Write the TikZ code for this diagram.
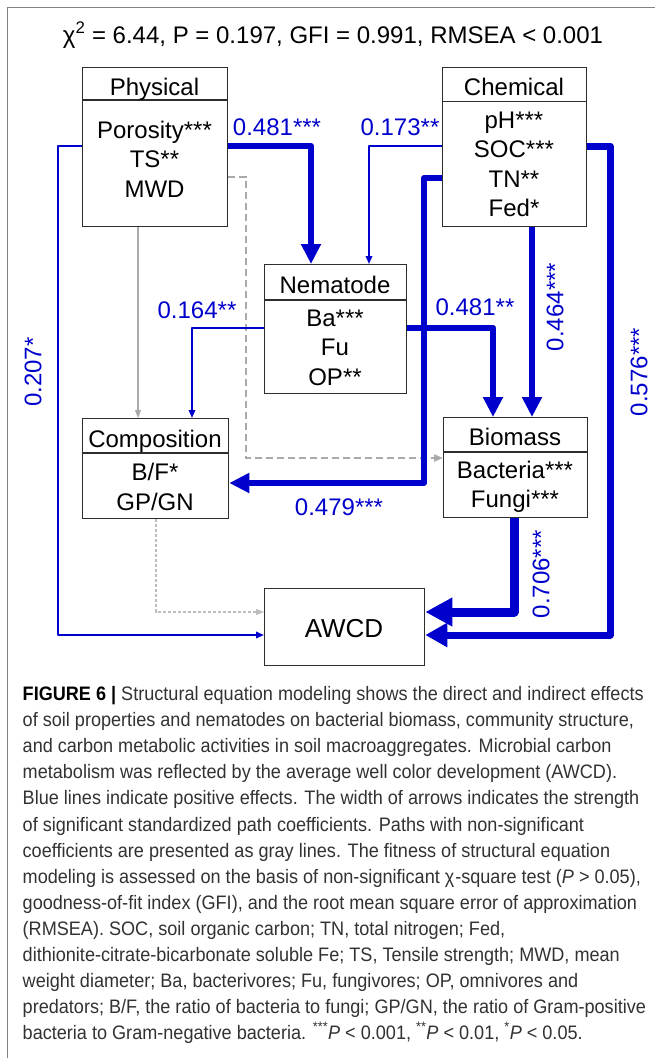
\documentclass[tikz,border=0pt]{standalone}
\usepackage{fontspec}
\setmainfont{Liberation Sans}
\usepackage{graphicx}
\usetikzlibrary{arrows.meta}
\definecolor{pathblue}{RGB}{0,0,204}
\definecolor{boxline}{RGB}{45,45,45}
\definecolor{nsgray}{RGB}{170,170,170}
\definecolor{nsgraylight}{RGB}{190,190,190}
\definecolor{capgray}{RGB}{50,50,50}
\definecolor{framegray}{RGB}{130,130,130}
\newlength\capw
\newcommand\myCapLine[1]{\scalebox{\capsx}[1]{#1}}
\begin{document}
\settowidth\capw{\fontsize{19.5}{26}\selectfont\textbf{FIGURE 6 |} Structural equation modeling shows the direct and indirect effects}%
\pgfmathsetmacro\capsx{621/\capw}%
\begin{tikzpicture}[x=1pt,y=-1pt,
  box/.style={draw=boxline, line width=1.3pt, fill=white, inner sep=0pt, anchor=north west},
  divline/.style={draw=boxline, line width=1.3pt},
  lbl/.style={font=\fontsize{24}{29}\selectfont, anchor=base, inner sep=0pt},
  coef/.style={font=\fontsize{24}{29}\selectfont, text=pathblue, inner sep=0pt},
  capline/.style={font=\fontsize{19.5}{26}\selectfont, text=capgray, anchor=base west, inner sep=0pt},
  thinpath/.style={draw=pathblue, line width=1.7pt, line join=round, -{Triangle[length=8pt,width=6.5pt]}},
  thickpath/.style={draw=pathblue, line width=6pt, line join=round, -{Triangle[length=20pt,width=19pt]}},
  nsline/.style={draw=nsgray, line width=1.2pt, -{Triangle[length=8pt,width=6pt]}},
  nsdash/.style={draw=nsgray, line width=2pt, dash pattern=on 7pt off 4pt, -{Triangle[length=9pt,width=7pt]}},
  nsdot/.style={draw=nsgraylight, line width=1.2pt, dash pattern=on 3pt off 2pt, -{Triangle[length=8pt,width=6pt]}}
]
\fill[white] (0,0) rectangle (655,1058);
\useasboundingbox (0,0) rectangle (655,1058);
\draw[framegray, line width=1.2pt] (7.5,1058) -- (7.5,7.5) -- (655,7.5);

% title
\node[lbl] (title) at (333,43) {χ\textsuperscript{2} = 6.44, P = 0.197, GFI = 0.991, RMSEA < 0.001};

% boxes
\node[box, minimum width=145pt, minimum height=159pt] (phys) at (82,67) {};
\node[box, minimum width=144pt, minimum height=159pt] (chem) at (442,67) {};
\node[box, minimum width=142pt, minimum height=129pt] (nem) at (264,264) {};
\node[box, minimum width=146pt, minimum height=100pt] (comp) at (82,418) {};
\node[box, minimum width=144pt, minimum height=100pt] (bio) at (443,417) {};
\node[box, minimum width=160pt, minimum height=77pt] (awcd) at (264,588) {};

\draw[divline] (phys.west |- 0,100) -- (phys.east |- 0,100);
\draw[divline] (chem.west |- 0,101.5) -- (chem.east |- 0,101.5);
\draw[divline] (nem.west |- 0,300) -- (nem.east |- 0,300);
\draw[divline] (comp.west |- 0,453) -- (comp.east |- 0,453);
\draw[divline] (bio.west |- 0,452) -- (bio.east |- 0,452);

% box texts
\node[lbl] (physh) at (154.5,95) {Physical};
\node[lbl] (phys1) at (154.5,138) {Porosity***};
\node[lbl] (phys2) at (154.5,167.5) {TS**};
\node[lbl] (phys3) at (154.5,197) {MWD};

\node[lbl] (chemh) at (514,95) {Chemical};
\node[lbl] (chem1) at (514,128) {pH***};
\node[lbl] (chem2) at (514,157.5) {SOC***};
\node[lbl] (chem3) at (514,187) {TN**};
\node[lbl] (chem4) at (514,216.5) {Fed*};

\node[lbl] (nemh) at (335,293) {Nematode};
\node[lbl] (nem1) at (335,326) {Ba***};
\node[lbl] (nem2) at (335,355.5) {Fu};
\node[lbl] (nem3) at (335,385) {OP**};

\node[lbl] (comph) at (155,447) {Composition};
\node[lbl] (comp1) at (155,480) {B/F*};
\node[lbl] (comp2) at (155,510) {GP/GN};

\node[lbl] (bioh) at (515,445) {Biomass};
\node[lbl] (bio1) at (515,478) {Bacteria***};
\node[lbl] (bio2) at (515,507) {Fungi***};

\node[lbl, font=\fontsize{26}{30}\selectfont] (awcdt) at (344,637) {AWCD};

% non-significant paths
\draw[nsline] (phys.south -| 138,0) -- (comp.north -| 138,0);
\draw[nsdash] (phys.east |- 0,177) -| (246,458) -- (bio.west |- 0,458);
\draw[nsdot] (comp.south -| 156,0) |- (awcd.west |- 0,612);

% significant paths
\draw[thinpath] (phys.west |- 0,146) -- (58,146) |- (awcd.west |- 0,635);
\draw[thickpath] (phys.east |- 0,146) -| (nem.north -| 311,0);
\draw[thinpath] (chem.west |- 0,146) -| (nem.north -| 369,0);
\draw[thickpath] (chem.west |- 0,178) -| (424,483) -- (comp.east |- 0,483);
\draw[thickpath] (chem.south -| 532,0) -- (bio.north -| 532,0);
\draw[thickpath, line width=7pt, -{Triangle[length=22pt,width=23pt]}] (chem.east |- 0,146) -| (610,635) -- (awcd.east |- 0,635);
\draw[thinpath] (nem.west |- 0,328) -| (comp.north -| 192,0);
\draw[thickpath, line width=6.5pt] (nem.east |- 0,328) -| (bio.north -| 493,0);
\draw[thickpath, line width=9pt, -{Triangle[length=27pt,width=27pt]}] (bio.south -| 514,0) |- (awcd.east |- 0,612);

% coefficients
\node[coef, anchor=base] (c481a) at (277,135) {0.481***};
\node[coef, anchor=base] (c173) at (400,135) {0.173**};
\node[coef, anchor=base] (c164) at (197,318) {0.164**};
\node[coef, anchor=base] (c481b) at (475,315) {0.481**};
\node[coef, anchor=base] (c479) at (339,515) {0.479***};
\node[coef, rotate=90] (c464) at (555,307) {0.464***};
\node[coef, rotate=90] (c207) at (33,372) {0.207*};
\node[coef, rotate=90] (c576) at (639,372) {0.576***};
\node[coef, rotate=90] (c706) at (541,574) {0.706***};

% caption
\node[capline] (cap1) at (22.5,700.7) {\myCapLine{\textcolor{black}{\textbf{FIGURE 6 |}} Structural equation modeling shows the direct and indirect effects}};
\node[capline] (cap2) at (22.5,726.8) {\myCapLine{of soil properties and nematodes on bacterial biomass, community structure,}};
\node[capline] (cap3) at (22.5,752.8) {\myCapLine{and carbon metabolic activities in soil macroaggregates. Microbial carbon}};
\node[capline] (cap4) at (22.5,778.9) {\myCapLine{metabolism was reflected by the average well color development (AWCD).}};
\node[capline] (cap5) at (22.5,804.9) {\myCapLine{Blue lines indicate positive effects. The width of arrows indicates the strength}};
\node[capline] (cap6) at (22.5,831.0) {\myCapLine{of significant standardized path coefficients. Paths with non-significant}};
\node[capline] (cap7) at (22.5,857.1) {\myCapLine{coefficients are presented as gray lines. The fitness of structural equation}};
\node[capline] (cap8) at (22.5,883.1) {\myCapLine{modeling is assessed on the basis of non-significant χ\kern1pt-square test (\textit{P} > 0.05),}};
\node[capline] (cap9) at (22.5,909.2) {\myCapLine{goodness-of-fit index (GFI), and the root mean square error of approximation}};
\node[capline] (cap10) at (22.5,935.2) {\myCapLine{(RMSEA). SOC, soil organic carbon; TN, total nitrogen; Fed,}};
\node[capline] (cap11) at (22.5,961.3) {\myCapLine{dithionite-citrate-bicarbonate soluble Fe; TS, Tensile strength; MWD, mean}};
\node[capline] (cap12) at (22.5,987.4) {\myCapLine{weight diameter; Ba, bacterivores; Fu, fungivores; OP, omnivores and}};
\node[capline] (cap13) at (22.5,1013.4) {\myCapLine{predators; B/F, the ratio of bacteria to fungi; GP/GN, the ratio of Gram-positive}};
\node[capline] (cap14) at (22.5,1039.5) {\myCapLine{bacteria to Gram-negative bacteria. \textsuperscript{***}\textit{P} < 0.001, \textsuperscript{**}\textit{P} < 0.01, \textsuperscript{*}\textit{P} < 0.05.}};
\end{tikzpicture}
\end{document}
